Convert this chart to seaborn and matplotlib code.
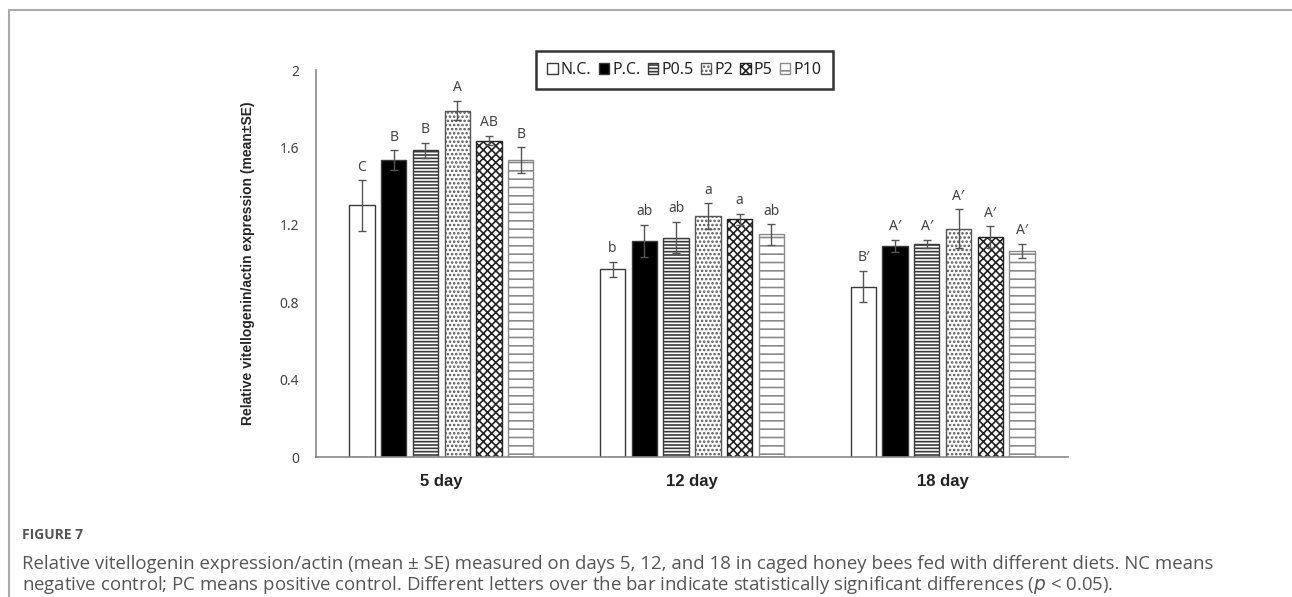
import numpy as np
import pandas as pd
import matplotlib
matplotlib.use("Agg")
import matplotlib.pyplot as plt
from matplotlib.patches import Patch
from matplotlib.lines import Line2D
import seaborn as sns

days = ["5 day", "12 day", "18 day"]
diets = ["N.C.", "P.C.", "P0.5", "P2", "P5", "P10"]

day5 = [1.30, 1.535, 1.585, 1.79, 1.635, 1.535]
day12 = [0.97, 1.115, 1.133, 1.245, 1.228, 1.15]
day18 = [0.88, 1.09, 1.10, 1.18, 1.137, 1.066]

err5 = [0.13, 0.05, 0.04, 0.05, 0.025, 0.065]
err12 = [0.04, 0.083, 0.08, 0.066, 0.03, 0.052]
err18 = [0.08, 0.033, 0.02, 0.10, 0.055, 0.035]

letters5 = ["C", "B", "B", "A", "AB", "B"]
letters12 = ["b", "ab", "ab", "a", "a", "ab"]
letters18 = ["B\u2032", "A\u2032", "A\u2032", "A\u2032", "A\u2032", "A\u2032"]

bar_colors = ["white", "black", "white", "white", "white", "white"]
hatches = [None, None, "-----", "....", "xxxx", "--"]
edge_colors = ["#3a3a3a", "#3a3a3a", "#3a3a3a", "#555555", "#222222", "#8a8a8a"]

rows = []
for day, vals, errs, labs in zip(days, [day5, day12, day18], [err5, err12, err18],
                                 [letters5, letters12, letters18]):
    for diet, v, e, l in zip(diets, vals, errs, labs):
        rows.append({"day": day, "diet": diet, "value": v, "err": e, "letter": l})
df = pd.DataFrame(rows)

sns.set_style("white")
plt.rcParams["font.family"] = ["Noto Sans", "DejaVu Sans"]
plt.rcParams["hatch.linewidth"] = 1.2

fig = plt.figure(figsize=(12.92, 5.97), dpi=100)
ax = fig.add_axes([0.2446, 0.2345, 0.5820, 0.6482])

sns.barplot(data=df, x="day", y="value", hue="diet", order=days, hue_order=diets,
            palette=bar_colors, saturation=1, width=0.76, gap=0.2,
            edgecolor="#3a3a3a", linewidth=1, errorbar=None, legend=False, ax=ax)

for container, hatch, ec, diet in zip(ax.containers, hatches, edge_colors, diets):
    sub = df[df["diet"] == diet].set_index("day").loc[days]
    for bar, (_, r) in zip(container, sub.iterrows()):
        if hatch:
            bar.set_hatch(hatch)
        bar.set_edgecolor(ec)
        cx = bar.get_x() + bar.get_width() / 2
        ax.errorbar(cx, r["value"], yerr=r["err"], fmt="none", ecolor="#555555",
                    elinewidth=1, capsize=3, capthick=1)
        ax.text(cx, r["value"] + r["err"] + 0.03, r["letter"], ha="center", va="bottom",
                fontsize=10, color="#444444")

ax.set_ylim(0, 2)
ax.set_yticks([0, 0.4, 0.8, 1.2, 1.6, 2])
ax.set_yticklabels(["0", "0.4", "0.8", "1.2", "1.6", "2"], fontsize=10, color="#444444")
ax.set_xlim(-0.5, 2.5)
ax.tick_params(axis="both", length=0, pad=12)
for lab in ax.get_xticklabels():
    lab.set_family(["Liberation Sans", "DejaVu Sans"])
    lab.set_fontweight("bold")
    lab.set_fontsize(12)
    lab.set_color("#222222")
ax.set_xlabel("")
ax.set_ylabel("Relative vitellogenin/actin expression (mean\u00b1SE)", fontsize=10,
              fontweight="bold", family=["Liberation Sans", "DejaVu Sans"], labelpad=18)
for side in ["top", "right"]:
    ax.spines[side].set_visible(False)
for side in ["left", "bottom"]:
    ax.spines[side].set_color("#888888")
    ax.spines[side].set_linewidth(1.2)

handles = [Patch(facecolor=c, edgecolor=ec, hatch=h, label=d)
           for c, h, ec, d in zip(bar_colors, hatches, edge_colors, diets)]
leg = ax.legend(handles=handles, ncol=6, loc="center", bbox_to_anchor=(0.49, 1.0),
                fontsize=11.5, handlelength=0.65, handleheight=0.65, handletextpad=0.2,
                columnspacing=0.45, frameon=True, fancybox=False, borderpad=0.7)
leg.get_frame().set_edgecolor("black")
leg.get_frame().set_linewidth(1.8)

# outer frame lines
fig.add_artist(Line2D([9 / 1292, 1], [1 - 10 / 597, 1 - 10 / 597], color="#aaaaaa", lw=1.5))
fig.add_artist(Line2D([9 / 1292, 9 / 1292], [0, 1 - 10 / 597], color="#aaaaaa", lw=1.5))

cap_font = ["Open Sans", "DejaVu Sans"]
fig.text(22 / 1292, 1 - 535 / 597, "FIGURE 7", fontsize=10, fontweight="bold",
         family=cap_font, color="#555555", va="center")
fig.text(22 / 1292, 1 - 564 / 597,
         "Relative vitellogenin expression/actin (mean \u00b1 SE) measured on days 5, 12, and 18 "
         "in caged honey bees fed with different diets. NC means",
         fontsize=13.4, family=cap_font, color="#555555", va="center")
fig.text(22 / 1292, 1 - 585 / 597,
         "negative control; PC means positive control. Different letters over the bar indicate "
         "statistically significant differences ($\\mathit{p}$ < 0.05).",
         fontsize=13.4, family=cap_font, color="#555555", va="center")

fig.savefig("out.png", dpi=100)
